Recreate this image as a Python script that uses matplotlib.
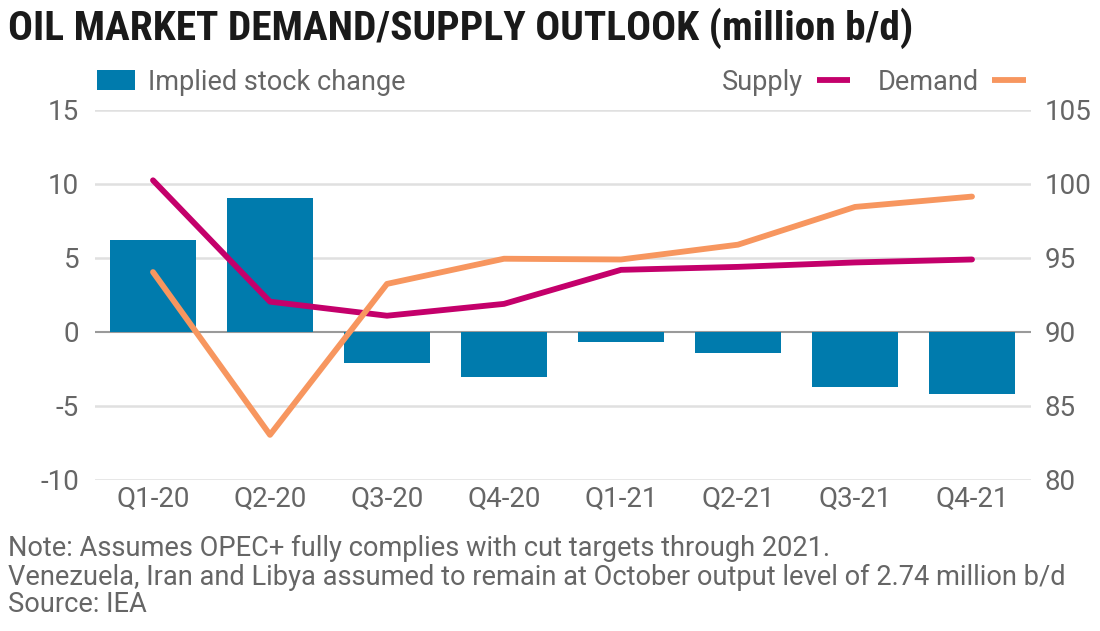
import matplotlib
matplotlib.use("Agg")
import matplotlib.pyplot as plt
from matplotlib import font_manager as fm
import numpy as np

quarters = ["Q1-20", "Q2-20", "Q3-20", "Q4-20", "Q1-21", "Q2-21", "Q3-21", "Q4-21"]
stock_change = [6.2, 9.05, -2.1, -3.05, -0.7, -1.4, -3.7, -4.2]
supply = [100.25, 92.05, 91.1, 91.9, 94.2, 94.4, 94.7, 94.9]
demand = [94.05, 83.05, 93.25, 94.95, 94.9, 95.9, 98.45, 99.15]
left_ticks = [15, 10, 5, 0, -5, -10]
right_ticks = [105, 100, 95, 90, 85, 80]

title = "OIL MARKET DEMAND/SUPPLY OUTLOOK (million b/d)"
notes = ["Note: Assumes OPEC+ fully complies with cut targets through 2021.",
         "Venezuela, Iran and Libya assumed to remain at October output level of 2.74 million b/d",
         "Source: IEA"]

BLUE = "#007BAD"
MAGENTA = "#C4006B"
ORANGE = "#F7965F"
GRAY_TXT = "#666666"

plt.rcParams['font.family'] = ['Roboto', 'DejaVu Sans']

# pick a condensed family for the title if one is installed
entries = fm.fontManager.ttflist
names = {f.name for f in entries}
title_kw = dict(family=['Roboto', 'DejaVu Sans'], fontweight='bold')
for cand in ['Roboto Condensed', 'Open Sans Condensed', 'Liberation Sans Narrow']:
    if cand in names:
        title_kw = dict(family=[cand, 'DejaVu Sans'], fontweight='bold')
        break

W, H = 1100, 631
fig = plt.figure(figsize=(W/100, H/100), dpi=100)
ax = fig.add_axes([94.5/W, 1-480/H, (1030.5-94.5)/W, (480-110)/H])
ax2 = ax.twinx()

x = np.arange(len(quarters))
bars = ax.bar(x, stock_change, width=0.73, color=BLUE, zorder=2)
ax.set_xlim(-0.5, len(quarters)-0.5)
ax.set_ylim(-10, 15)
ax2.set_ylim(80, 105)

for t in left_ticks:
    if t == 0:
        ax.axhline(t, color="#9a9a9a", lw=1.5, zorder=1)
    else:
        ax.axhline(t, color="#e0e0e0", lw=1.8, zorder=1)

l_sup, = ax2.plot(x, supply, color=MAGENTA, lw=4.2, solid_capstyle='round', solid_joinstyle='round', zorder=3)
l_dem, = ax2.plot(x, demand, color=ORANGE, lw=4.2, solid_capstyle='round', solid_joinstyle='round', zorder=3)

ax.set_zorder(1); ax2.set_zorder(2)
ax2.patch.set_visible(False)

for a in (ax, ax2):
    for s in a.spines.values():
        s.set_visible(False)
    a.tick_params(length=0, labelsize=20, labelcolor=GRAY_TXT)

ax.set_yticks(left_ticks)
ax.set_yticklabels([str(t) for t in left_ticks])
ax.tick_params(axis='y', pad=11)
ax2.set_yticks(right_ticks)
ax2.set_yticklabels([str(t) for t in right_ticks])
ax2.tick_params(axis='y', pad=10)
ax.set_xticks(x)
ax.set_xticklabels(quarters)
ax.tick_params(axis='x', pad=4)

# Legends
leg1 = fig.legend(handles=[bars], labels=["Implied stock change"], loc='center left',
                  bbox_to_anchor=(97/W, 1-82/H), frameon=False, fontsize=19.5,
                  handlelength=1.4, handleheight=0.75, handletextpad=0.5,
                  borderpad=0, borderaxespad=0, labelcolor=GRAY_TXT)
leg2 = fig.legend(handles=[l_sup, l_dem], labels=["Supply", "Demand"], loc='center right',
                  bbox_to_anchor=(1026/W, 1-82/H), frameon=False, fontsize=19.5, ncol=2,
                  markerfirst=False, handlelength=1.25, handletextpad=0.5, columnspacing=1.0,
                  borderpad=0, borderaxespad=0, labelcolor=GRAY_TXT)
for ln in leg2.get_lines():
    ln.set_linewidth(4.2)
    ln.set_solid_capstyle('butt')

# Title & notes with width fitting
fig.canvas.draw()
r = fig.canvas.get_renderer()

tt = fig.text(8/W, 1-28/H, title, fontsize=30, color="#1a1a1a",
              ha='left', va='center', **title_kw)
bb = tt.get_window_extent(r)
tt.set_fontsize(30*902/bb.width)

n_ys = [548, 577, 605]
ntexts = []
for s, yy in zip(notes, n_ys):
    ntexts.append(fig.text(8/W, 1-yy/H, s, fontsize=18, color=GRAY_TXT, ha='left',
                           va='center'))
bb = ntexts[1].get_window_extent(r)
scale = 1057/bb.width
for t in ntexts:
    t.set_fontsize(t.get_fontsize()*scale)

fig.savefig("out.png", dpi=100)
